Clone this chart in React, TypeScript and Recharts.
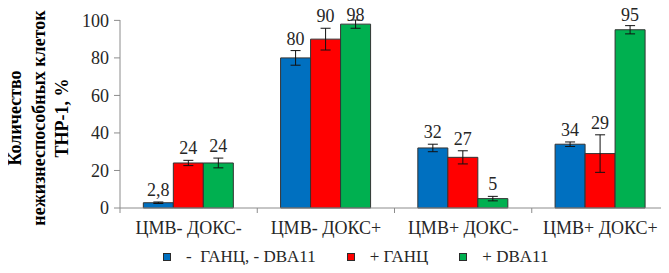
import React from 'react';
import { BarChart, Bar, XAxis, YAxis, ErrorBar, LabelList } from 'recharts';

const categories = ['ЦМВ- ДОКС-', 'ЦМВ- ДОКС+', 'ЦМВ+ ДОКС-', 'ЦМВ+ ДОКС+'];
const seriesNames = ['-  ГАНЦ, - DBA11', '+ ГАНЦ', '+ DBA11'];
const controlValues = [2.8, 80, 32, 34];
const gancValues = [24, 90, 27, 29];
const dbaValues = [24, 98, 5, 95];
const controlErrors = [0.4, 3.9, 2, 1.2];
const gancErrors = [1.4, 5.8, 3.5, 10];
const dbaErrors = [2.6, 2.2, 1.2, 2.2];
const yTicks = [0, 20, 40, 60, 80, 100];
const titleLines = ['Количество', 'нежизнеспособных клеток', 'THP-1, %'];
const colors = ['#0070C0', '#FF0000', '#00B050'];

const data = categories.map((c, i) => ({
  category: c,
  control: controlValues[i],
  controlErr: controlErrors[i],
  ganc: gancValues[i],
  gancErr: gancErrors[i],
  dba: dbaValues[i],
  dbaErr: dbaErrors[i],
}));

const FONT = '"Times New Roman", "Liberation Serif", Tinos, serif';
const AXIS = '#8c8c8c';
const TEXT = '#262626';

const makeLabel = (errs: number[]) => (props: any) => {
  const vb = props.viewBox && props.viewBox.width !== undefined ? props.viewBox : props;
  const x = Number(vb.x);
  const y = Number(vb.y);
  const w = Number(vb.width);
  const h = Math.abs(Number(vb.height));
  const v = Number(props.value);
  const idx = props.index;
  const px = v ? h / v : 0;
  const top = y - (errs[idx] || 0) * px;
  return (
    <text x={x + w / 2} y={Math.max(top - 6, 13)} textAnchor="middle" fontSize={18} fill={TEXT} style={{ fontFamily: FONT }}>
      {String(v).replace('.', ',')}
    </text>
  );
};

const CategoryTick = (props: any) => {
  const { x, y, payload, index } = props;
  const half = payload.offset || 0;
  return (
    <g>
      <line x1={x - half} y1={y} x2={x - half} y2={y + 5} stroke={AXIS} />
      {index === categories.length - 1 && (
        <line x1={x + half} y1={y} x2={x + half} y2={y + 5} stroke={AXIS} />
      )}
      <text x={x} y={y + 26} textAnchor="middle" fontSize={18} fill={TEXT} style={{ fontFamily: FONT }}>
        {payload.value}
      </text>
    </g>
  );
};

const YTitle = () => (
  <text
    transform="translate(0,110) rotate(-90)"
    textAnchor="middle"
    fontSize={18}
    fontWeight="bold"
    fill="#000"
    style={{ fontFamily: FONT }}
  >
    {titleLines.map((t, i) => (
      <tspan key={i} x={0} y={13 + i * 23.5}>
        {t}
      </tspan>
    ))}
  </text>
);

const LegendRow = () => (
  <div style={{ height: 16, display: 'flex', alignItems: 'center', paddingLeft: 155, fontFamily: FONT, fontSize: 17, color: TEXT, whiteSpace: 'pre' }}>
    {seriesNames.map((n, i) => (
      <div key={i} style={{ display: 'flex', alignItems: 'center', marginRight: 31 }}>
        <div style={{ width: 8, height: 8, boxSizing: 'border-box', border: '1px solid #2b2b2b', background: colors[i] }} />
        <span style={{ marginLeft: 15 }}>{n}</span>
      </div>
    ))}
  </div>
);

export default function App() {
  return (
    <div style={{ fontFamily: FONT }}>
      <BarChart
        width={661}
        height={241}
        data={data}
        margin={{ top: 12, right: 0, bottom: 0, left: 0 }}
        barCategoryGap="17%"
        barGap={0}
        style={{ fontFamily: FONT }}
      >
        <XAxis
          dataKey="category"
          height={41}
          axisLine={{ stroke: AXIS }}
          tickLine={false}
          tickSize={0}
          tickMargin={0}
          interval={0}
          tick={<CategoryTick />}
        />
        <YAxis
          width={112}
          domain={[0, 100]}
          ticks={yTicks}
          interval={0}
          axisLine={{ stroke: AXIS }}
          tickLine={{ stroke: AXIS }}
          tickSize={6}
          tickMargin={5}
          tick={{ fontSize: 18, fill: TEXT, style: { fontFamily: FONT } }}
          label={{ content: () => <YTitle /> }}
        />
        <Bar dataKey="control" name={seriesNames[0]} fill={colors[0]} stroke="#333" strokeWidth={1} isAnimationActive={false}>
          <ErrorBar dataKey="controlErr" width={5} stroke="#111" strokeWidth={1} />
          <LabelList dataKey="control" content={makeLabel(controlErrors)} />
        </Bar>
        <Bar dataKey="ganc" name={seriesNames[1]} fill={colors[1]} stroke="#333" strokeWidth={1} isAnimationActive={false}>
          <ErrorBar dataKey="gancErr" width={5} stroke="#111" strokeWidth={1} />
          <LabelList dataKey="ganc" content={makeLabel(gancErrors)} />
        </Bar>
        <Bar dataKey="dba" name={seriesNames[2]} fill={colors[2]} stroke="#333" strokeWidth={1} isAnimationActive={false}>
          <ErrorBar dataKey="dbaErr" width={5} stroke="#111" strokeWidth={1} />
          <LabelList dataKey="dba" content={makeLabel(dbaErrors)} />
        </Bar>
      </BarChart>
      <LegendRow />
    </div>
  );
}
